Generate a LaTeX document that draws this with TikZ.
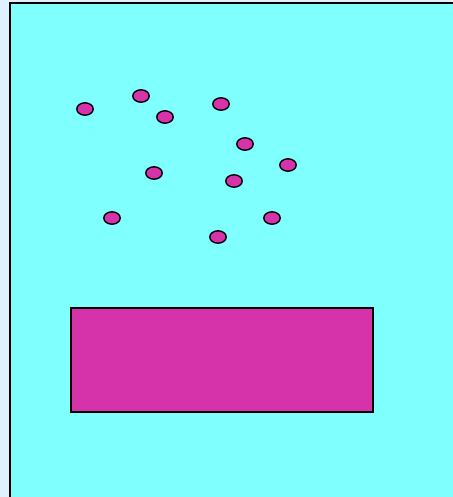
\documentclass[tikz,border=0pt]{standalone}
\usepackage{xcolor}
\usepackage{tikz}
\definecolor{backblue}{RGB}{224,240,255}
\definecolor{tankcyan}{RGB}{128,255,255}
\definecolor{grainpink}{RGB}{214,51,170}

\begin{document}
\begin{tikzpicture}[
    x=1pt, y=-1pt,
    grain/.style={draw, fill=grainpink, line width=1.4pt},
    slab/.style={draw, fill=grainpink, line width=1.3pt},
]

\fill[backblue] (0,0) rectangle (452,497);
\useasboundingbox (0,0) rectangle (452,497);

% tank
\fill[tankcyan] (10,3) rectangle (460,505);
\draw[line width=2pt] (10,505) -- (10,3) -- (460,3);

% grains
\foreach \gx/\gy in {85/109, 141/96, 165/117, 221/104, 245/144, 288/165,
                     154/173, 234/181, 112/218, 272/218, 218/237}
  \draw[grain] (\gx,\gy) ellipse (8.2 and 6.2);

% block
\draw[slab] (71,308) rectangle (373,412);

\end{tikzpicture}
\end{document}
